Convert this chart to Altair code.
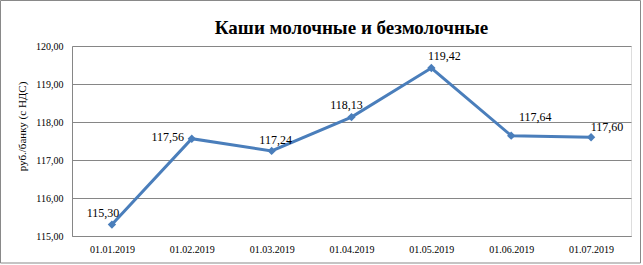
import altair as alt
import pandas as pd

dates = ["01.01.2019", "01.02.2019", "01.03.2019", "01.04.2019",
         "01.05.2019", "01.06.2019", "01.07.2019"]
prices = [115.30, 117.56, 117.24, 118.13, 119.42, 117.64, 117.60]

# label offsets (style): dx, dy per point
label_dx = [-9, -24, 4, -5, 13, 24, 16]
label_dy = [-12, -2, -11, -12, -12, -19, -10]

df = pd.DataFrame({"date": dates, "price": prices, "idx": list(range(len(dates)))})

FONT = "'Liberation Serif', 'DejaVu Serif', 'Noto Serif', serif"
BLUE = "#4a7ebb"
GRID = "#868686"

base = alt.Chart(df).encode(
    x=alt.X("date:N", sort=dates,
            scale=alt.Scale(type="point", padding=0.5),
            axis=alt.Axis(title=None, labelAngle=0, ticks=False, labelPadding=8,
                          labelFont=FONT, labelFontSize=10, labelColor="#000",
                          domainColor=GRID, grid=False)),
    y=alt.Y("price:Q", scale=alt.Scale(domain=[115, 120], nice=False, zero=False),
            axis=alt.Axis(title="руб./банку (с НДС)", values=[115, 116, 117, 118, 119, 120],
                          labelExpr="replace(format(datum.value, '.2f'), '.', ',')",
                          ticks=False, labelPadding=9, labelFont=FONT, labelFontSize=10,
                          labelColor="#000", domainColor=GRID, gridColor=GRID,
                          gridWidth=1, titleFont=FONT, titleFontSize=11,
                          titleFontWeight="normal", titleColor="#000",
                          titleAngle=-90, titleX=-50, titleY=80,
                          titleAlign="center", titleBaseline="middle")),
)

line = base.mark_line(color=BLUE, strokeWidth=3)
pts = base.mark_point(shape="diamond", filled=True, color=BLUE, size=70, opacity=1)

labels = []
for i in range(len(dates)):
    labels.append(
        base.transform_filter(f"datum.idx == {i}")
        .transform_calculate(lbl="replace(format(datum.price, '.2f'), '.', ',')")
        .mark_text(font=FONT, fontSize=12, color="#000", align="center",
                   baseline="middle", dx=label_dx[i], dy=label_dy[i])
        .encode(text="lbl:N")
    )

border = alt.Chart(pd.DataFrame({"a": [0]})).mark_rect(
    fill=None, stroke="#898989", strokeWidth=1, clip=False
).encode(x=alt.value(-71.5), x2=alt.value(568.5), y=alt.value(-45.5), y2=alt.value(217))

chart = alt.layer(border, line, pts, *labels).properties(
    width=559, height=190,
    title=alt.TitleParams("Каши молочные и безмолочные", font=FONT, fontSize=19,
                          fontWeight="bold", color="#000", anchor="middle",
                          frame="group", offset=0, dy=53, baseline="alphabetic"),
    autosize=alt.AutoSizeParams(type="none"),
    padding={"left": 72, "top": 46, "right": 12, "bottom": 29},
).configure_view(stroke=None).configure(background="white")

chart.save("out.html", embed_options={"renderer": "svg", "actions": False})
